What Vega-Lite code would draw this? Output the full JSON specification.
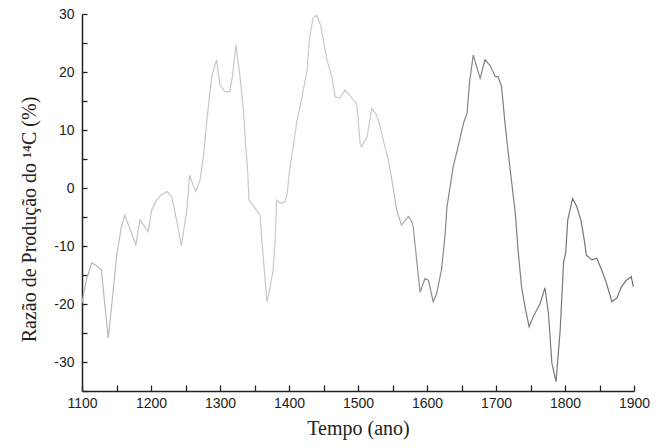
{
  "$schema": "https://vega.github.io/schema/vega-lite/v6.json",
  "autosize": {"type": "none"},
  "padding": {"left": 82, "top": 14, "right": 33, "bottom": 57},
  "width": 552,
  "height": 377,
  "background": "white",
  "config": {"view": {"stroke": null}},
  "data": {"values": [
    {"ano": 1100, "razao": -19.8}, {"ano": 1106, "razao": -16}, {"ano": 1114, "razao": -12.9}, {"ano": 1120, "razao": -13.3},
    {"ano": 1128, "razao": -14.1}, {"ano": 1133, "razao": -20}, {"ano": 1138, "razao": -25.9}, {"ano": 1145, "razao": -18},
    {"ano": 1150, "razao": -11.8}, {"ano": 1157, "razao": -6.7}, {"ano": 1162, "razao": -4.7}, {"ano": 1170, "razao": -7.2},
    {"ano": 1178, "razao": -9.8}, {"ano": 1184, "razao": -5.5}, {"ano": 1191, "razao": -6.7}, {"ano": 1196, "razao": -7.5},
    {"ano": 1201, "razao": -3.8}, {"ano": 1208, "razao": -2.1}, {"ano": 1215, "razao": -1.2}, {"ano": 1223, "razao": -0.6},
    {"ano": 1230, "razao": -1.5}, {"ano": 1237, "razao": -5.5}, {"ano": 1244, "razao": -10}, {"ano": 1252, "razao": -3.8},
    {"ano": 1256, "razao": 2.2}, {"ano": 1261, "razao": 0.5}, {"ano": 1265, "razao": -0.6}, {"ano": 1271, "razao": 1.4},
    {"ano": 1276, "razao": 5.4}, {"ano": 1281, "razao": 11.7}, {"ano": 1288, "razao": 19.2}, {"ano": 1295, "razao": 22.1},
    {"ano": 1300, "razao": 17.8}, {"ano": 1307, "razao": 16.6}, {"ano": 1314, "razao": 16.6}, {"ano": 1318, "razao": 19.2},
    {"ano": 1323, "razao": 24.7}, {"ano": 1329, "razao": 19.2}, {"ano": 1334, "razao": 13.4}, {"ano": 1337, "razao": 7.7},
    {"ano": 1340, "razao": 3.1}, {"ano": 1342, "razao": -2.1}, {"ano": 1351, "razao": -3.5}, {"ano": 1358, "razao": -4.7},
    {"ano": 1361, "razao": -9.5}, {"ano": 1365, "razao": -15.3}, {"ano": 1368, "razao": -19.6}, {"ano": 1372, "razao": -17.6},
    {"ano": 1377, "razao": -14.1}, {"ano": 1380, "razao": -9}, {"ano": 1382, "razao": -2.1}, {"ano": 1387, "razao": -2.6},
    {"ano": 1394, "razao": -2.4}, {"ano": 1397, "razao": -1.2}, {"ano": 1401, "razao": 3.1}, {"ano": 1406, "razao": 7.1},
    {"ano": 1411, "razao": 11.2}, {"ano": 1418, "razao": 15.2}, {"ano": 1423, "razao": 18.3}, {"ano": 1426, "razao": 20.1},
    {"ano": 1430, "razao": 26.1}, {"ano": 1435, "razao": 29.3}, {"ano": 1440, "razao": 29.8}, {"ano": 1446, "razao": 28},
    {"ano": 1455, "razao": 22.1}, {"ano": 1462, "razao": 19.2}, {"ano": 1467, "razao": 15.7}, {"ano": 1474, "razao": 15.5},
    {"ano": 1481, "razao": 16.9}, {"ano": 1486, "razao": 16.3}, {"ano": 1493, "razao": 15.2}, {"ano": 1498, "razao": 14.6},
    {"ano": 1500, "razao": 12.3}, {"ano": 1503, "razao": 7.7}, {"ano": 1505, "razao": 7.1}, {"ano": 1513, "razao": 8.8},
    {"ano": 1520, "razao": 13.7}, {"ano": 1527, "razao": 12.6}, {"ano": 1532, "razao": 10.6}, {"ano": 1539, "razao": 7.1},
    {"ano": 1544, "razao": 4.8}, {"ano": 1549, "razao": 1.4}, {"ano": 1556, "razao": -3.8}, {"ano": 1563, "razao": -6.4},
    {"ano": 1567, "razao": -5.8}, {"ano": 1573, "razao": -4.9}, {"ano": 1578, "razao": -5.8}, {"ano": 1580, "razao": -6.7},
    {"ano": 1585, "razao": -12.4}, {"ano": 1590, "razao": -18}, {"ano": 1597, "razao": -15.6}, {"ano": 1602, "razao": -15.9},
    {"ano": 1609, "razao": -19.6}, {"ano": 1614, "razao": -18.2}, {"ano": 1621, "razao": -14.1}, {"ano": 1626, "razao": -8.4},
    {"ano": 1629, "razao": -3.2}, {"ano": 1638, "razao": 3.7}, {"ano": 1645, "razao": 7.1}, {"ano": 1653, "razao": 11.2},
    {"ano": 1658, "razao": 12.9}, {"ano": 1662, "razao": 18.6}, {"ano": 1667, "razao": 22.9}, {"ano": 1677, "razao": 18.9},
    {"ano": 1684, "razao": 22.1}, {"ano": 1691, "razao": 21.2}, {"ano": 1699, "razao": 19.2}, {"ano": 1703, "razao": 19.2},
    {"ano": 1708, "razao": 17.5}, {"ano": 1713, "razao": 11.2}, {"ano": 1720, "razao": 3.7}, {"ano": 1728, "razao": -4.4},
    {"ano": 1732, "razao": -10.7}, {"ano": 1737, "razao": -17}, {"ano": 1742, "razao": -20.5}, {"ano": 1748, "razao": -23.9},
    {"ano": 1754, "razao": -22.2}, {"ano": 1764, "razao": -19.9}, {"ano": 1771, "razao": -17.2}, {"ano": 1776, "razao": -21.6},
    {"ano": 1781, "razao": -30.2}, {"ano": 1787, "razao": -33.4}, {"ano": 1793, "razao": -24.5}, {"ano": 1798, "razao": -12.7},
    {"ano": 1801, "razao": -11.2}, {"ano": 1804, "razao": -5.5}, {"ano": 1811, "razao": -1.8}, {"ano": 1817, "razao": -3.2},
    {"ano": 1823, "razao": -5.5}, {"ano": 1828, "razao": -9}, {"ano": 1831, "razao": -11.6}, {"ano": 1839, "razao": -12.4},
    {"ano": 1846, "razao": -12.1}, {"ano": 1853, "razao": -14.1}, {"ano": 1860, "razao": -16.4}, {"ano": 1868, "razao": -19.6},
    {"ano": 1875, "razao": -19}, {"ano": 1882, "razao": -17}, {"ano": 1889, "razao": -15.9}, {"ano": 1896, "razao": -15.3},
    {"ano": 1899, "razao": -17}
  ]},
  "mark": {
    "type": "line",
    "strokeWidth": 1.2,
    "color": {
      "gradient": "linear", "x1": 0, "x2": 1, "y1": 0, "y2": 0,
      "stops": [
        {"offset": 0, "color": "#b0b0b0"},
        {"offset": 0.1, "color": "#c4c4c4"},
        {"offset": 0.55, "color": "#cccccc"},
        {"offset": 0.62, "color": "#8a8a8a"},
        {"offset": 1, "color": "#6e6e6e"}
      ]
    }
  },
  "encoding": {
    "x": {
      "field": "ano", "type": "quantitative",
      "scale": {"domain": [1100, 1900], "nice": false, "zero": false},
      "axis": {
        "values": [1100, 1150, 1200, 1250, 1300, 1350, 1400, 1450, 1500, 1550, 1600, 1650, 1700, 1750, 1800, 1850, 1900],
        "labelExpr": "datum.value % 100 === 0 ? toString(datum.value) : ''",
        "labelFlush": false,
        "labelOverlap": false,
        "grid": false,
        "domainColor": "#222", "domainWidth": 1.5,
        "tickColor": "#222", "tickWidth": 1.3,
        "tickSize": -6,
        "labelPadding": 11,
        "labelFont": "Liberation Sans", "labelFontSize": 14, "labelColor": "#222",
        "title": "Tempo (ano)",
        "titleFont": "Liberation Serif", "titleFontSize": 20, "titleFontWeight": "normal", "titleColor": "#222",
        "titleBaseline": "alphabetic", "titleY": 43
      }
    },
    "y": {
      "field": "razao", "type": "quantitative",
      "scale": {"domain": [-35, 30], "nice": false, "zero": false},
      "axis": {
        "values": [-35, -30, -25, -20, -15, -10, -5, 0, 5, 10, 15, 20, 25, 30],
        "labelExpr": "datum.value % 10 === 0 ? toString(datum.value) : ''",
        "labelFlush": false,
        "labelOverlap": false,
        "grid": false,
        "domainColor": "#222", "domainWidth": 1.5,
        "tickColor": "#222", "tickWidth": 1.3,
        "tickSize": -5,
        "labelPadding": 13,
        "labelFont": "Liberation Sans", "labelFontSize": 14, "labelColor": "#222",
        "title": "Razão de Produção do  ¹⁴C (%)",
        "titleFont": "Liberation Serif", "titleFontSize": 20, "titleFontWeight": "normal", "titleColor": "#222",
        "titleAngle": -90, "titleBaseline": "alphabetic", "titleX": -47, "titleY": 205
      }
    }
  }
}
